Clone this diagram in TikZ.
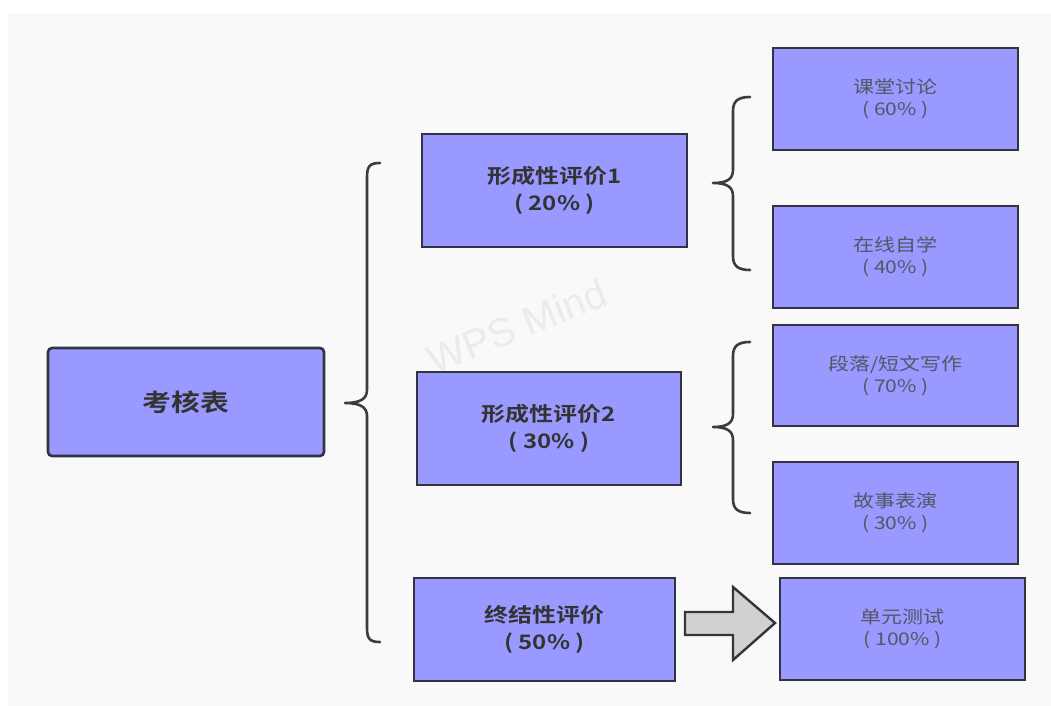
\documentclass[tikz,border=0pt]{standalone}
\usepackage{fontspec}
\newfontfamily\cjkb[FakeStretch=1.2,BoldFont={Noto Sans CJK SC Bold}]{Noto Sans CJK SC Bold}
\newfontfamily\cjkr[FakeStretch=1.2]{Noto Sans CJK SC}
\newfontfamily\wmfont{Liberation Sans}
\definecolor{boxfill}{HTML}{9999FF}
\definecolor{boxline}{HTML}{343440}
\definecolor{bgc}{HTML}{F9F9F9}
\definecolor{braceline}{HTML}{3C3C3C}
\definecolor{txtb}{HTML}{333333}
\definecolor{txtr}{HTML}{555566}
\begin{document}
\begin{tikzpicture}[x=1pt,y=-1pt,
  box/.style={draw=boxline,line width=2.6pt,fill=boxfill,inner sep=0pt,align=center},
  mainbox/.style={box,font=\cjkb\fontsize{20}{27}\selectfont,text=txtb},
  subbox/.style={box,minimum width=245pt,minimum height=102pt,font=\cjkr\fontsize{17.5}{22}\selectfont,text=txtr},
  bracestyle/.style={draw=braceline,line width=2.6pt,line cap=round,line join=round},
  arrowstyle/.style={draw=boxline,line width=2.4pt,fill=black!18,line join=miter}]
\useasboundingbox (0,0) rectangle (1051,706);
\fill[bgc] (8,13) rectangle (1051,706);
\node[rotate=22,text=black!8,font=\wmfont\fontsize{40}{40}\selectfont] (wm) at (517,326) {WPS Mind};
% nodes
\node[box,rounded corners=4pt,minimum width=276pt,minimum height=108pt,text=txtb,font=\cjkb\fontsize{24}{28}\selectfont] (kh) at (186,402) {考核表};
\node[mainbox,minimum width=265pt,minimum height=113pt] (f1) at (554.5,190.5) {形成性评价1\\( 20\% )};
\node[mainbox,minimum width=264pt,minimum height=113pt] (f2) at (549,428.5) {形成性评价2\\( 30\% )};
\node[mainbox,minimum width=261pt,minimum height=103pt] (zj) at (544.5,629.5) {终结性评价\\( 50\% )};
\node[subbox] (k1) at (895.5,99) {课堂讨论\\( 60\% )};
\node[subbox] (k2) at (895.5,257) {在线自学\\( 40\% )};
\node[subbox,minimum height=101pt] (k3) at (895.5,375.5) {段落/短文写作\\( 70\% )};
\node[subbox] (k4) at (895.5,513) {故事表演\\( 30\% )};
\node[subbox] (k5) at (902.5,629) {单元测试\\( 100\% )};
% braces
\coordinate (b0t) at (345,403);
\coordinate (b1t) at (713,183);
\coordinate (b2t) at (713,427);
\draw[bracestyle] (380,163) .. controls (370,163) and (367,166) .. (367,177) -- (367,390)
  .. controls (367,399) and (360,403) .. (b0t)
  .. controls (360,403) and (367,407) .. (367,416) -- (367,628)
  .. controls (367,639) and (370,642) .. (380,642);
\draw[bracestyle] (750,97) .. controls (738,97) and (733,101) .. (733,111) -- (733,170)
  .. controls (733,179) and (727,183) .. (b1t)
  .. controls (727,183) and (733,187) .. (733,196) -- (733,256)
  .. controls (733,266) and (738,270) .. (750,270);
\draw[bracestyle] (750,342) .. controls (738,342) and (733,346) .. (733,356) -- (733,414)
  .. controls (733,423) and (727,427) .. (b2t)
  .. controls (727,427) and (733,431) .. (733,440) -- (733,499)
  .. controls (733,509) and (738,513) .. (750,513);
% block arrow
\draw[arrowstyle] (685,612) -- (733,612) -- (733,587) -- (775,623) -- (733,660) -- (733,635) -- (685,635) -- cycle;
\end{tikzpicture}
\end{document}
